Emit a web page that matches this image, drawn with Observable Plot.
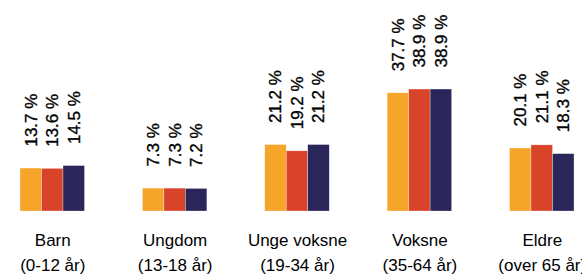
<!DOCTYPE html>
<html>
<head>
<meta charset="utf-8">
<script src="https://cdn.jsdelivr.net/npm/d3@7"></script>
<script src="https://cdn.jsdelivr.net/npm/@observablehq/plot@0.6"></script>
<style>
  html, body { margin: 0; padding: 0; background: #fff; overflow: hidden; }
</style>
</head>
<body>
<div id="chart"></div>
<script>
const categories = ["Barn", "Ungdom", "Unge voksne", "Voksne", "Eldre"];
const ageRanges = ["(0-12 år)", "(13-18 år)", "(19-34 år)", "(35-64 år)", "(over 65 år)"];
const series = ["Serie 1", "Serie 2", "Serie 3"];
const values1 = [13.7, 7.3, 21.2, 37.7, 20.1];
const values2 = [13.6, 7.3, 19.2, 38.9, 21.1];
const values3 = [14.5, 7.2, 21.2, 38.9, 18.3];
const colors = ["#F5A52A", "#D9432A", "#2A2659"];

const seriesValues = [values1, values2, values3];
const data = [];
categories.forEach((c, i) => {
  series.forEach((s, j) => {
    data.push({category: c, series: s, value: seriesValues[j][i]});
  });
});

const font = "'Liberation Sans', Arial, Helvetica, sans-serif";

const chart = Plot.plot({
  width: 582,
  height: 274,
  marginLeft: 20,
  marginRight: 8,
  marginTop: 0,
  marginBottom: 63,
  style: {fontFamily: font, background: "#fff", color: "#000"},
  fx: {domain: categories, paddingInner: 0.473, paddingOuter: 0, round: false, label: null},
  x: {domain: series, axis: null, padding: 0, round: false},
  y: {domain: [0, 67.3], axis: null},
  color: {domain: series, range: colors},
  marks: [
    Plot.barY(data, {fx: "category", x: "series", y: "value", fill: "series", stroke: "#ffffff", strokeWidth: 0.5, strokeOpacity: 0.6}),
    Plot.text(data, {
      fx: "category", x: "series", y: "value",
      text: d => d.value.toFixed(1) + " %",
      rotate: -90, textAnchor: "start", dy: -22,
      fontSize: 17, fill: "#000", stroke: "#000", strokeWidth: 0.35
    }),
    Plot.axisFx({
      anchor: "bottom", tickSize: 0, tickPadding: 17,
      fontSize: 17, lineHeight: 1.47, label: null, fill: "#000", stroke: "#000", strokeWidth: 0.35,
      tickFormat: d => d + "\n" + ageRanges[categories.indexOf(d)]
    })
  ]
});
document.getElementById("chart").appendChild(chart);
</script>
</body>
</html>
